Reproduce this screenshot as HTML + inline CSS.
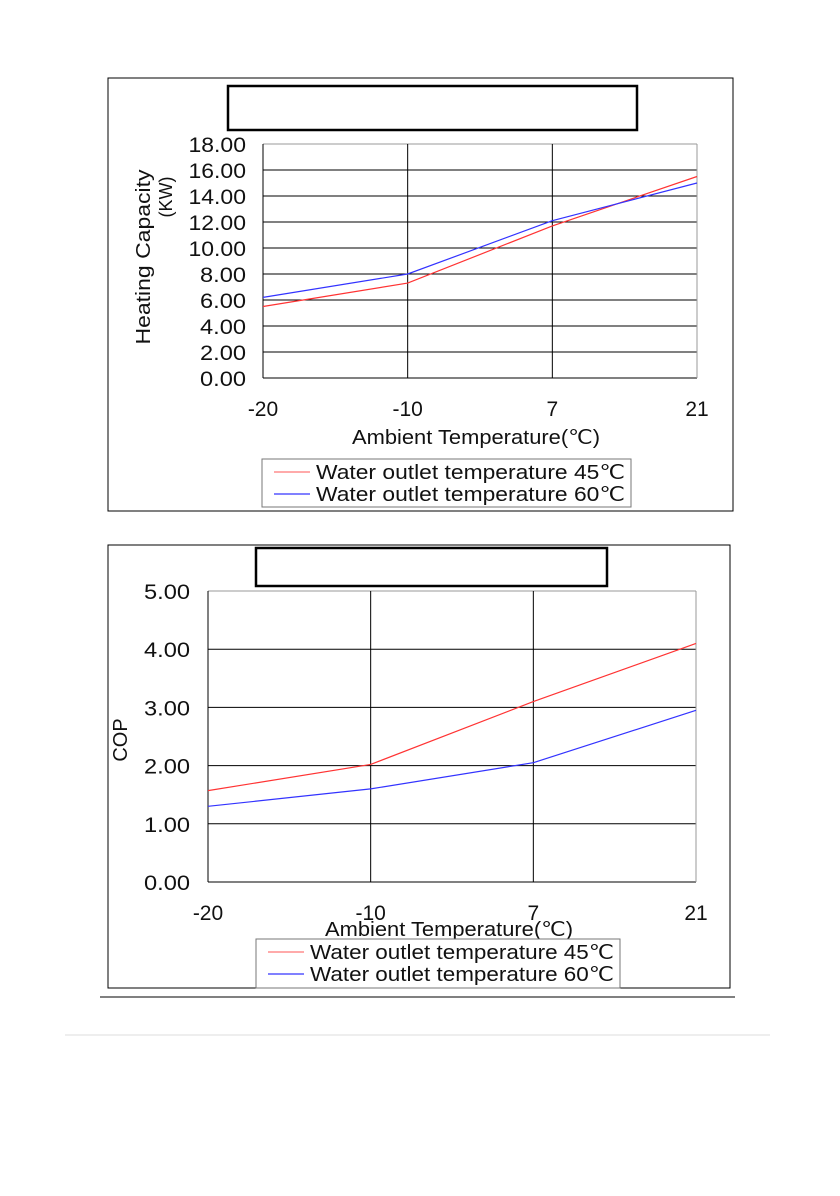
<!DOCTYPE html>
<html><head><meta charset="utf-8"><style>
body{margin:0;background:#fff;width:840px;height:1191px;overflow:hidden;font-family:"Liberation Sans",sans-serif}
svg text{font-family:"Liberation Sans",sans-serif;fill:#111}
</style></head><body>
<svg width="840" height="1191" xmlns="http://www.w3.org/2000/svg">
<g id="c1"></g>
<g id="c2"></g>
<line x1="100" y1="997" x2="735" y2="997" stroke="#000" stroke-width="1"/>
<line x1="65" y1="1035" x2="770" y2="1035" stroke="#ddd" stroke-width="1"/>
</svg>
<script>
const categories=["-20","-10","7","21"];
const cap45=[5.5,7.3,11.7,15.5];
const cap60=[6.2,8.0,12.1,15.0];
const capTicks=["0.00","2.00","4.00","6.00","8.00","10.00","12.00","14.00","16.00","18.00"];
const cop45=[1.57,2.02,3.1,4.1];
const cop60=[1.3,1.6,2.05,2.95];
const copTicks=["0.00","1.00","2.00","3.00","4.00","5.00"];
const legendLabels=["Water outlet temperature 45℃","Water outlet temperature 60℃"];
const NS="http://www.w3.org/2000/svg";
function mk(p,t,a){const e=document.createElementNS(NS,t);for(const k in a)e.setAttribute(k,a[k]);p.appendChild(e);return e;}
function chart(g,cfg){
  const r=mk(g,'rect',{x:cfg.fx,y:cfg.fy,width:cfg.fw,height:cfg.fh,fill:'none',stroke:'#000'});
  
  
  const tb=mk(g,'rect',{x:cfg.tx,y:cfg.ty,width:cfg.tw,height:cfg.th,fill:'#fff',stroke:'#000','stroke-width':2.5});
  
  
  const {px,py,pw,ph,ymax}=cfg;
  const xs=v=>px+pw*v/(categories.length-1);
  const ys=v=>py+ph-ph*v/ymax;
  const step=ymax/(cfg.ticks.length-1);
  cfg.ticks.forEach((t,i)=>{const y=ys(i*step);
    const l=mk(g,'line',{x1:px,x2:px+pw,y1:y,y2:y,stroke:'#000','stroke-width':1});
    if(i==cfg.ticks.length-1)l.setAttribute('stroke','#999');
    
    
    const tx=mk(g,'text',{x:cfg.lx,y:y+8,'text-anchor':'end','font-size':21,textLength:t.length*11.5,lengthAdjust:'spacingAndGlyphs'});tx.textContent=t;
    
    });
  categories.forEach((c,i)=>{const x=xs(i);
    const l=mk(g,'line',{x1:x,x2:x,y1:py,y2:py+ph,stroke:(i==categories.length-1?'#999':'#000')});
    
    
    const tx=mk(g,'text',{x:x,y:cfg.xly,'text-anchor':'middle','font-size':21});tx.textContent=c;
    
    });
  [[cfg.s45,'#f33'],[cfg.s60,'#33f']].forEach(([s,col])=>{
    const p=mk(g,'polyline',{points:s.map((v,i)=>xs(i)+','+ys(v)).join(' '),fill:'none',stroke:col,'stroke-width':1.2});
    
    });
  const at=mk(g,'text',{x:cfg.axx-124,y:cfg.axy,'font-size':20,textLength:248,lengthAdjust:'spacingAndGlyphs'});at.textContent='Ambient Temperature(℃)';
  
  
  const yt=mk(g,'text',{x:0,y:0,'text-anchor':'middle','font-size':20,transform:`translate(${cfg.yax},${cfg.yay}) rotate(-90)`});yt.textContent=cfg.ytitle;
  if(cfg.ytl){yt.setAttribute('textLength',cfg.ytl);yt.setAttribute('lengthAdjust','spacingAndGlyphs');}
  
  
  if(cfg.ytitle2){const y2=mk(g,'text',{x:0,y:0,'text-anchor':'middle','font-size':18,transform:`translate(${cfg.yax+22},${cfg.yay-60}) rotate(-90)`});y2.textContent=cfg.ytitle2;
    
    }
  const lg=mk(g,'rect',{x:cfg.gx,y:cfg.gy,width:cfg.gw,height:cfg.gh,fill:'#fff',stroke:'#777'});
  
  
  ['#f55','#00f'].forEach((col,i)=>{const y=cfg.gy+13+i*22;
    const l=mk(g,'line',{x1:cfg.gx+12,x2:cfg.gx+48,y1:y,y2:y,stroke:col});
    
    
    const t=mk(g,'text',{x:cfg.gx+54,y:y+7,'font-size':20,textLength:cfg.gw-60,lengthAdjust:'spacingAndGlyphs'});t.textContent=legendLabels[i];
    
    });
}
chart(document.getElementById('c1'),{fx:108,fy:78,fw:625,fh:433,tx:228,ty:86,tw:409,th:44,px:263,py:144,pw:434,ph:234,ymax:18,ticks:capTicks,lx:246,xly:416,s45:cap45,s60:cap60,axx:476,axy:444,ytitle:'Heating Capacity',ytl:175,ytitle2:'(KW)',yax:150,yay:257,gx:262,gy:459,gw:369,gh:48});
chart(document.getElementById('c2'),{fx:108,fy:545,fw:622,fh:443,tx:256,ty:548,tw:351,th:38,px:208,py:591,pw:488,ph:291,ymax:5,ticks:copTicks,lx:190,xly:920,s45:cop45,s60:cop60,axx:449,axy:936,ytitle:'COP',yax:127,yay:740,gx:256,gy:939,gw:364,gh:49});
</script>
</body></html>
